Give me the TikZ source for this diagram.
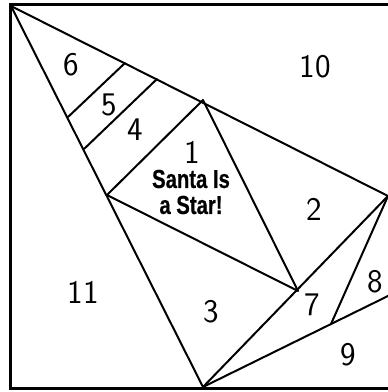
\documentclass[tikz,border=0pt]{standalone}
\usepackage{fontspec}
\newfontfamily\titlefont{Liberation Sans Bold}[FakeStretch=0.78,FakeBold=0.5]
\begin{document}
\begin{tikzpicture}[x=1pt,y=-1pt,
  edge/.style={line width=2pt,line cap=round,line join=round},
  frame/.style={line width=3pt},
  num/.style={font=\sffamily\fontsize{33}{38}\selectfont,inner sep=0pt},
  title/.style={font=\titlefont\fontsize{26}{26}\selectfont,align=center,inner sep=0pt}]
\useasboundingbox (0,0) rectangle (388,392);
% frame (right side lies beyond the picture)
\draw[frame] (392,4.5) -- (10.5,4.5) -- (10.5,388) -- (392,388);
% key points
\coordinate (A) at (11,6);
\coordinate (B) at (203,387);
\coordinate (C) at (388,196);
\coordinate (P) at (203,100);
\coordinate (Q) at (107,195);
\coordinate (R) at (298,291);
\coordinate (S) at (331,324);
\coordinate (D) at (390,295);
\coordinate (L1a) at (68,117);
\coordinate (L1b) at (125,63);
\coordinate (L2a) at (84,149);
\coordinate (L2b) at (157,79);
% lines
\draw[edge] (A) -- (B);
\draw[edge] (A) -- (C);
\draw[edge] (L1a) -- (L1b);
\draw[edge] (L2a) -- (L2b);
\draw[edge] (P) -- (Q) -- (R) -- cycle;
\draw[edge] (B) -- (C);
\draw[edge] (B) -- (D);
\draw[edge] (S) -- (C);
% labels
\node[num] (n6) at (71,65) {6};
\node[num] (n5) at (109,105) {5};
\node[num] (n4) at (135,130) {4};
\node[num] (n1) at (192,152) {1};
\node[title] (t1) at (191,192) {Santa Is\\a Star!};
\node[num] (n10) at (315,67) {10};
\node[num] (n2) at (314,209) {2};
\node[num] (n11) at (83,292) {11};
\node[num] (n3) at (211,312) {3};
\node[num] (n7) at (312,305) {7};
\node[num] (n8) at (375,282) {8};
\node[num] (n9) at (348,355) {9};
\end{tikzpicture}
\end{document}
